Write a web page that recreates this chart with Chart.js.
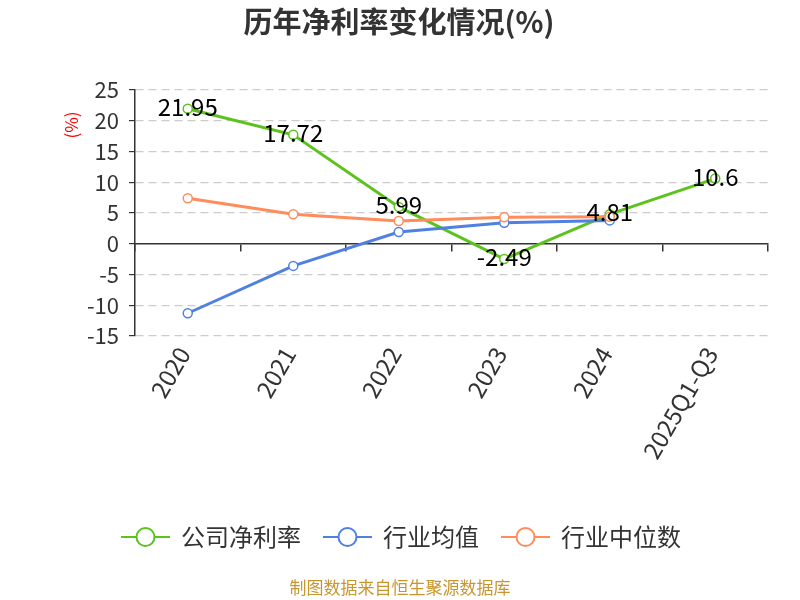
<!DOCTYPE html>
<html>
<head>
<meta charset="utf-8">
<script src="https://cdn.jsdelivr.net/npm/chart.js@4/dist/chart.umd.min.js"></script>
<style>
    html, body { margin: 0; padding: 0; background: #fff; }
    #wrap { width: 800px; height: 600px; position: relative; }
</style>
</head>
<body>
<div id="wrap"><canvas id="rateChart" width="800" height="600"></canvas></div>
<script>
// 数据
const years = ['2020', '2021', '2022', '2023', '2024', '2025Q1-Q3'];
const companyRate = [21.95, 17.72, 5.99, -2.49, 4.81, 10.6];
const industryAvg = [-11.3, -3.6, 1.9, 3.4, 3.8, null];
const industryMedian = [7.4, 4.8, 3.7, 4.3, 4.4, null];
const yTicks = [-15, -10, -5, 0, 5, 10, 15, 20, 25];

const FONT = '"Noto Sans CJK SC", "Noto Sans", sans-serif';
const GREEN = '#5bc21e';
const BLUE = '#4f80e2';
const ORANGE = '#ff8c5a';

// 标题、纵轴单位、图例、来源
const decorPlugin = {
    id: 'decor',
    afterDraw(chart) {
        const ctx = chart.ctx;
        ctx.save();
        ctx.fillStyle = '#333';
        ctx.font = 'bold 29px ' + FONT;
        ctx.textAlign = 'center';
        ctx.textBaseline = 'middle';
        ctx.fillText('历年净利率变化情况(%)', 399, 22);

        ctx.save();
        ctx.translate(72, 125);
        ctx.rotate(-Math.PI / 2);
        ctx.fillStyle = '#ff0000';
        ctx.font = '17px ' + FONT;
        ctx.fillText('(%)', 0, 0);
        ctx.restore();

        // 图例
        const items = [0, 1, 2].map(i => chart.data.datasets.find(d => d.legendIndex === i));
        ctx.font = '24px ' + FONT;
        ctx.textAlign = 'left';
        let x = 121;
        const y = 537;
        items.forEach(ds => {
            ctx.strokeStyle = ds.borderColor;
            ctx.lineWidth = 2;
            ctx.beginPath();
            ctx.moveTo(x, y);
            ctx.lineTo(x + 49, y);
            ctx.stroke();
            ctx.beginPath();
            ctx.arc(x + 24.5, y, 9, 0, Math.PI * 2);
            ctx.fillStyle = '#fff';
            ctx.fill();
            ctx.stroke();
            ctx.fillStyle = '#333';
            ctx.fillText(ds.label, x + 60, y);
            x += 60 + ctx.measureText(ds.label).width + 22;
        });

        ctx.fillStyle = '#c8962e';
        ctx.font = '17px ' + FONT;
        ctx.textAlign = 'center';
        ctx.fillText('制图数据来自恒生聚源数据库', 400, 588);
        ctx.restore();
    }
};

// 公司净利率数据标签
const labelPlugin = {
    id: 'valueLabels',
    afterDatasetsDraw(chart) {
        const ctx = chart.ctx;
        const idx = chart.data.datasets.findIndex(d => d.legendIndex === 0);
        const meta = chart.getDatasetMeta(idx);
        ctx.save();
        ctx.fillStyle = '#000';
        ctx.font = '24px ' + FONT;
        ctx.textAlign = 'center';
        ctx.textBaseline = 'middle';
        meta.data.forEach((pt, i) => {
            ctx.fillText(String(companyRate[i]), pt.x, pt.y - 2);
        });
        ctx.restore();
    }
};

const ctx = document.getElementById('rateChart').getContext('2d');
const rateChart = new Chart(ctx, {
    type: 'line',
    data: {
        labels: years,
        datasets: [
            {
                label: '行业中位数',
                legendIndex: 2,
                data: industryMedian,
                borderColor: ORANGE,
                order: 1
            },
            {
                label: '行业均值',
                legendIndex: 1,
                data: industryAvg,
                borderColor: BLUE,
                order: 2
            },
            {
                label: '公司净利率',
                legendIndex: 0,
                data: companyRate,
                borderColor: GREEN,
                order: 3
            }
        ]
    },
    options: {
        responsive: false,
        animation: false,
        devicePixelRatio: 1,
        layout: {
            autoPadding: false,
            padding: { top: 90, right: 32, left: 0, bottom: 0 }
        },
        elements: {
            line: { borderWidth: 3, tension: 0 },
            point: { radius: 4.5, borderWidth: 1.5, backgroundColor: '#fff', hoverRadius: 4.5 }
        },
        scales: {
            x: {
                offset: true,
                grid: { display: false },
                border: { display: false },
                ticks: {
                    color: '#333',
                    font: { size: 24, family: FONT },
                    minRotation: 60,
                    maxRotation: 60,
                    padding: -2,
                    labelOffset: -4
                },
                afterFit(scale) { scale.height = 264; }
            },
            x0: {
                type: 'category',
                position: { y: 0 },
                offset: true,
                grid: {
                    offset: true,
                    drawOnChartArea: false,
                    drawTicks: true,
                    tickLength: 7,
                    color: '#333',
                    lineWidth: 1.5
                },
                border: { display: true, color: '#333', width: 1.5 },
                ticks: { display: false }
            },
            y: {
                min: -15,
                max: 25,
                afterBuildTicks(scale) {
                    scale.ticks = yTicks.map(v => ({ value: v }));
                },
                grid: {
                    color: c => (c.tick && c.tick.value === 0 ? 'rgba(0,0,0,0)' : '#cccccc'),
                    tickColor: '#333',
                    tickLength: 6,
                    lineWidth: 1.2
                },
                border: { display: true, color: '#333', width: 1.5, dash: [8, 5] },
                ticks: {
                    color: '#333',
                    font: { size: 22, family: FONT },
                    padding: 10
                },
                afterFit(scale) { scale.width = 135; }
            }
        },
        plugins: {
            legend: { display: false },
            title: { display: false },
            tooltip: { enabled: false }
        }
    },
    plugins: [labelPlugin, decorPlugin]
});
</script>
</body>
</html>
